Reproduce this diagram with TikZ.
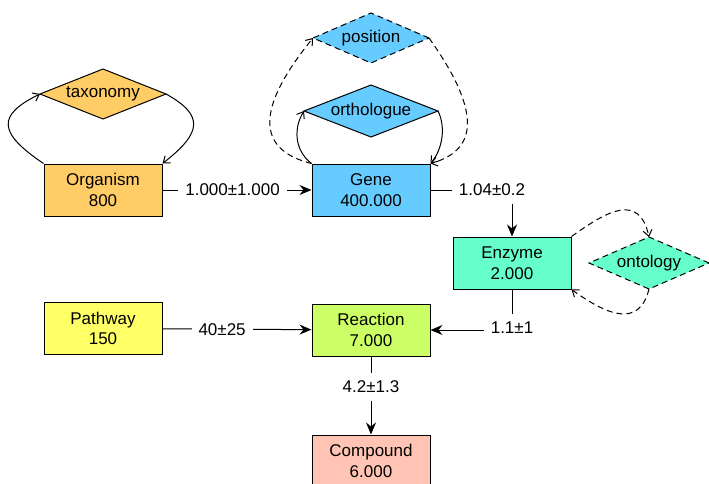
\documentclass[tikz,border=0pt]{standalone}
\usepackage{fontspec}
\setmainfont{Liberation Sans}
\usetikzlibrary{shapes.geometric,arrows.meta}
\definecolor{corg}{HTML}{FFCC66}
\definecolor{cgene}{HTML}{66CCFF}
\definecolor{cenz}{HTML}{66FFCC}
\definecolor{cpath}{HTML}{FFFF66}
\definecolor{creac}{HTML}{CCFF66}
\definecolor{ccomp}{HTML}{FFC4B4}
\tikzset{
  ent/.style={draw, line width=1pt, minimum width=118pt, minimum height=52pt, align=center, inner sep=0pt, font=\fontsize{17}{20.5}\selectfont},
  attr/.style={draw, diamond, line width=1pt, inner sep=0pt, outer sep=0pt, font=\fontsize{17}{20.5}\selectfont},
  dashattr/.style={attr, dash pattern=on 6pt off 4pt},
  lbl/.style={fill=white, inner xsep=7pt, inner ysep=8pt, font=\fontsize{17}{20.5}\selectfont},
  mainarrow/.style={line width=1pt, -{Stealth[length=12pt, width=10pt, inset=4pt]}},
  looparrow/.style={line width=1pt, -{Straight Barb[length=6pt, width=9pt]}},
  dashloop/.style={looparrow, dash pattern=on 6pt off 4pt},
}
\begin{document}
\begin{tikzpicture}[x=1pt, y=1pt]
\useasboundingbox (0,0) rectangle (709,483);
% entities
\node[ent, fill=corg] (org) at (103,293) {Organism\\800};
\node[ent, fill=cgene] (gene) at (371,293) {Gene\\400.000};
\node[ent, fill=cenz] (enz) at (512,220) {Enzyme\\2.000};
\node[ent, fill=cpath] (path) at (103,154.5) {Pathway\\150};
\node[ent, fill=creac] (reac) at (371,153) {Reaction\\7.000};
\node[ent, fill=ccomp] (comp) at (371,22) {Compound\\6.000};
% attributes
\node[attr, fill=corg, aspect=2.52, minimum width=126pt, minimum height=50pt] (tax) at (103,389) {taxonomy};
\node[dashattr, fill=cgene, aspect=2.32, minimum width=116pt, minimum height=50pt] (pos) at (371,445) {position};
\node[attr, fill=cgene, aspect=2.58, minimum width=134pt, minimum height=52pt] (orth) at (371,372) {orthologue};
\node[dashattr, fill=cenz, aspect=2.31, minimum width=120pt, minimum height=52pt] (ont) at (649,220) {ontology};
% main connectors
\draw[mainarrow] (org) -- node[lbl, pos=0.47] {1.000±1.000} (gene);
\draw[mainarrow] (gene.east) -| node[lbl, pos=0.5, xshift=-20pt] {1.04±0.2} (enz.north);
\draw[mainarrow] (enz.south) |- node[lbl, pos=0.5, yshift=2pt] {1.1±1} (reac.east);
\draw[mainarrow] (path) -- node[lbl, pos=0.4] {40±25} (reac);
\draw[mainarrow] (reac) -- node[lbl, pos=0.39] {4.2±1.3} (comp);
% loops
\draw[looparrow] (org.north west) .. controls +(-46,31) and +(-43,-21) .. (tax.west);
\draw[looparrow] (tax.east) .. controls +(38,-21) and +(40,31) .. (org.north east);
\draw[looparrow] (gene.north west) .. controls +(-18,14) and +(-10,-16) .. (orth.west);
\draw[looparrow] (orth.east) .. controls +(8,-16) and +(12,14) .. (gene.north east);
\draw[dashloop] (gene.north west) .. controls +(-56,14) and +(-57,-70) .. (pos.west);
\draw[dashloop] (pos.east) .. controls +(50,-70) and +(50,14) .. (gene.north east);
\draw[dashloop] (enz.north east) .. controls +(35,25) and +(-10,45) .. (ont.north);
\draw[dashloop] (ont.south) .. controls +(-10,-40) and +(35,-25) .. (enz.south east);
\end{tikzpicture}
\end{document}
